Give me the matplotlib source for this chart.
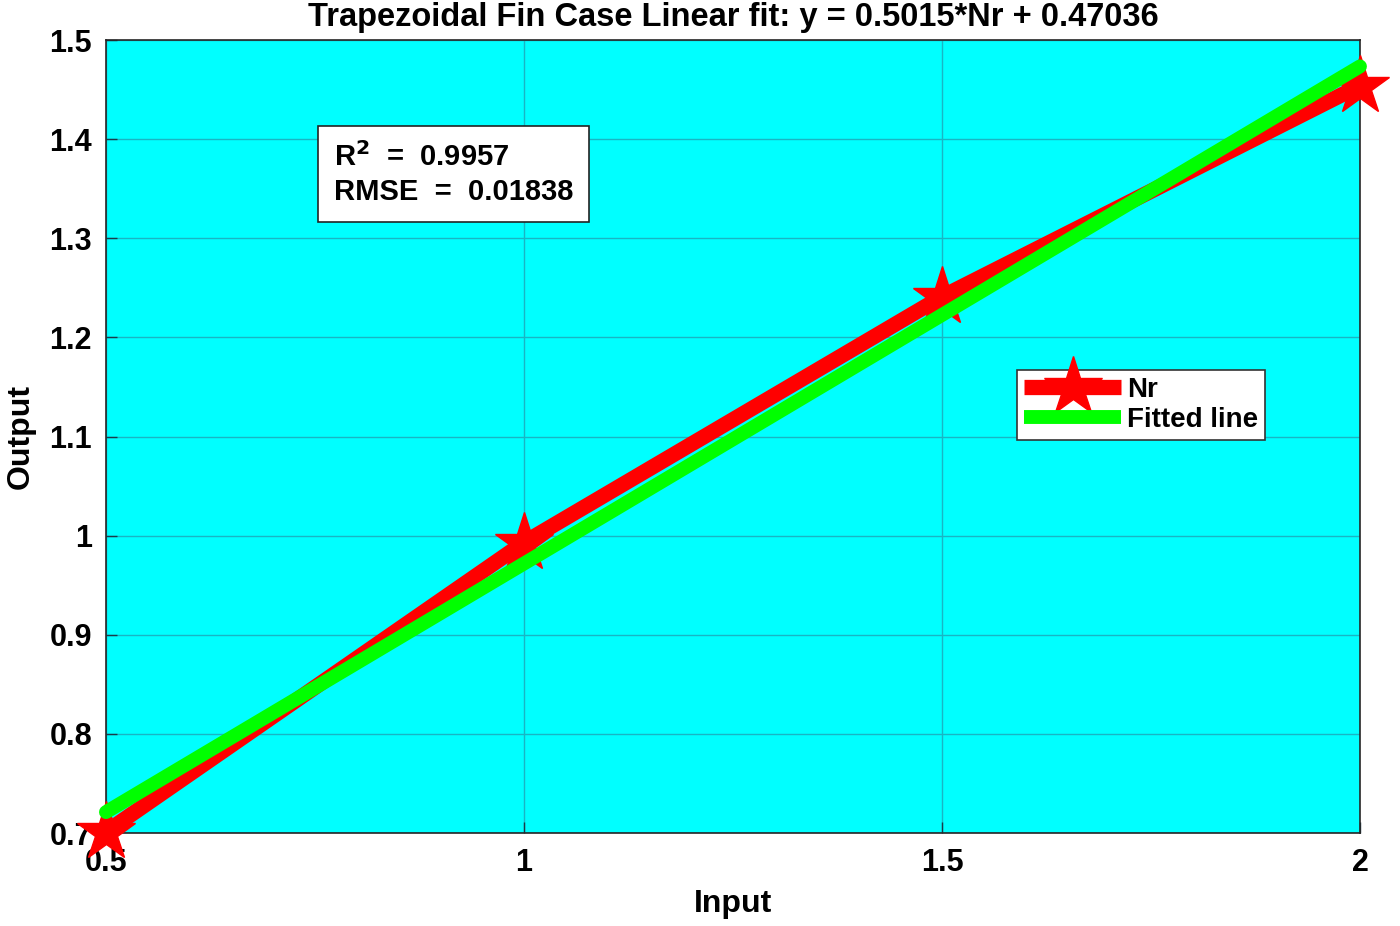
import numpy as np
import matplotlib
matplotlib.use('Agg')
import matplotlib.pyplot as plt

# data
x_in = [0.5, 1.0, 1.5, 2.0]
y_nr = [0.701, 0.993, 1.241, 1.454]
slope = 0.5015
intercept = 0.47036
r2_text = 'R$^2$  =  0.9957'
rmse_text = 'RMSE  =  0.01838'

plt.rcParams['font.family'] = ['Liberation Sans', 'DejaVu Sans']
plt.rcParams['font.weight'] = 'bold'
plt.rcParams['mathtext.default'] = 'bf'

fig = plt.figure(figsize=(14, 9.26), dpi=100)
ax = fig.add_axes([0.0757, 0.1004, 0.8957, 0.8564])
ax.set_facecolor('#00ffff')

xf = np.array([x_in[0], x_in[-1]])
yf = slope * xf + intercept

ax.plot(x_in, y_nr, color='#ff0000', lw=11, marker='*', ms=44,
        mfc='#ff0000', mec='#ff0000', label='Nr', clip_on=False, zorder=3,
        solid_capstyle='butt')
ax.plot(xf, yf, color='#00ff00', lw=10, label='Fitted line', zorder=4,
        solid_capstyle='round', clip_on=False)

ax.set_xlim(0.5, 2)
ax.set_ylim(0.7, 1.5)
ax.set_xticks([0.5, 1, 1.5, 2])
ax.set_xticklabels(['0.5', '1', '1.5', '2'])
ax.set_yticks(np.arange(0.7, 1.51, 0.1))
ax.set_yticklabels(['0.7', '0.8', '0.9', '1', '1.1', '1.2', '1.3', '1.4', '1.5'])
ax.tick_params(direction='in', length=8, width=1, color='#1a3a4a', labelsize=22)
ax.tick_params(axis='y', pad=10)
ax.tick_params(axis='x', pad=11)
for lab in ax.get_xticklabels() + ax.get_yticklabels():
    lab.set_fontweight('bold')
ax.grid(True, color='#19b5c4', lw=1)
ax.set_axisbelow(True)
for s in ax.spines.values():
    s.set_color('#262626')
    s.set_linewidth(1.2)

ax.set_xlabel('Input', fontsize=23, fontweight='bold', labelpad=8)
ax.set_ylabel('Output', fontsize=23, fontweight='bold', labelpad=10)
ax.set_title('Trapezoidal Fin Case Linear fit: y = 0.5015*Nr + 0.47036',
             fontsize=23.5, fontweight='bold', pad=10)

ax.text(0.1815, 0.8718, r2_text + '\n' + rmse_text, transform=ax.transAxes,
        fontsize=21, fontweight='bold', va='top', ha='left', linespacing=1.3,
        bbox=dict(boxstyle='square,pad=0.55', fc='white', ec='#222222', lw=1.2),
        zorder=6)

leg = ax.legend(loc='upper left', bbox_to_anchor=(0.7265, 0.5839),
                fontsize=20, frameon=True, fancybox=False, framealpha=1,
                handlelength=3.5, borderpad=0.25, labelspacing=0.15,
                handletextpad=0.2, borderaxespad=0)
leg.get_frame().set_edgecolor('#333333')
leg.get_frame().set_linewidth(1.2)
leg.set_zorder(6)
leg.get_lines()[1].set_solid_capstyle('butt')
for t in leg.get_texts():
    t.set_fontweight('bold')

fig.savefig('out.png', dpi=100)
